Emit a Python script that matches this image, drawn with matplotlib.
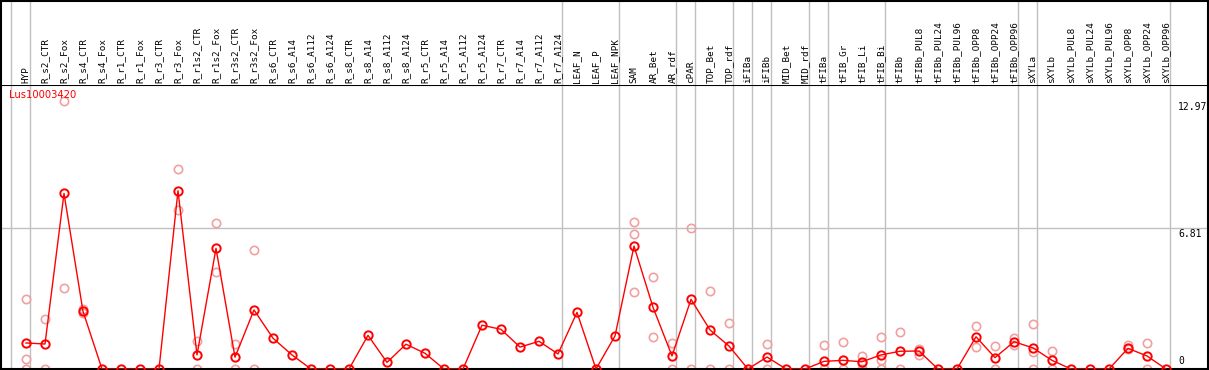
import numpy as np
import matplotlib
matplotlib.use("Agg")
import matplotlib.pyplot as plt

gene = "Lus10003420"

samples = ["HYP", "R_s2_CTR", "R_s2_Fox", "R_s4_CTR", "R_s4_Fox", "R_r1_CTR", "R_r1_Fox",
           "R_r3_CTR", "R_r3_Fox", "R_r1s2_CTR", "R_r1s2_Fox", "R_r3s2_CTR", "R_r3s2_Fox",
           "R_s6_CTR", "R_s6_A14", "R_s6_A112", "R_s6_A124", "R_s8_CTR", "R_s8_A14",
           "R_s8_A112", "R_s8_A124", "R_r5_CTR", "R_r5_A14", "R_r5_A112", "R_r5_A124",
           "R_r7_CTR", "R_r7_A14", "R_r7_A112", "R_r7_A124", "LEAF_N", "LEAF_P", "LEAF_NPK",
           "SAM", "AR_Bet", "AR_rdf", "cPAR", "TOP_Bet", "TOP_rdf", "iFIBa", "iFIBb",
           "MID_Bet", "MID_rdf", "tFIBa", "tFIB_Gr", "tFIB_Li", "tFIB_Bi", "tFIBb",
           "tFIBb_PUL8", "tFIBb_PUL24", "tFIBb_PUL96", "tFIBb_OPP8", "tFIBb_OPP24",
           "tFIBb_OPP96", "sXYLa", "sXYLb", "sXYLb_PUL8", "sXYLb_PUL24", "sXYLb_PUL96",
           "sXYLb_OPP8", "sXYLb_OPP24", "sXYLb_OPP96"]

mean_expr = [1.26, 1.21, 8.50, 2.79, 0, 0, 0,
             0, 8.63, 0.68, 5.84, 0.57, 2.86,
             1.49, 0.68, 0, 0, 0, 1.63,
             0.32, 1.20, 0.76, 0, 0, 2.12,
             1.92, 1.06, 1.34, 0.73, 2.74, 0, 1.60,
             5.95, 2.99, 0.63, 3.37, 1.89, 1.11, 0, 0.58,
             0, 0, 0.37, 0.42, 0.35, 0.68, 0.86,
             0.87, 0, 0, 1.56, 0.55,
             1.32, 1.02, 0.42, 0, 0, 0,
             1.00, 0.63, 0]

# single replicates (light circles)
replicates = {
    "HYP": [3.39, 0.48, 0], "R_s2_CTR": [2.41, 0], "R_s2_Fox": [3.91, 12.97],
    "R_s4_CTR": [2.89, 2.70], "R_r3_Fox": [9.68, 7.70], "R_r1s2_CTR": [1.36, 0],
    "R_r1s2_Fox": [7.05, 4.68], "R_r3s2_CTR": [1.21, 0], "R_r3s2_Fox": [5.75, 0],
    "SAM": [7.10, 6.52, 3.71], "AR_Bet": [4.44, 1.55], "AR_rdf": [1.27, 0],
    "cPAR": [6.81, 0], "TOP_Bet": [3.78, 0], "TOP_rdf": [2.21, 0], "iFIBb": [1.21, 0],
    "tFIBa": [1.18, 0], "tFIB_Gr": [1.29, 0], "tFIB_Li": [0.64, 0.28, 0],
    "tFIB_Bi": [1.56, 0.44, 0], "tFIBb": [1.78, 0], "tFIBb_PUL8": [0.97, 0.68],
    "tFIBb_OPP8": [2.08, 1.08], "tFIBb_OPP24": [1.11, 0], "tFIBb_OPP96": [1.52, 1.16],
    "sXYLa": [2.18, 0.84, 0], "sXYLb": [0.87, 0], "sXYLb_OPP8": [1.15, 0.95],
    "sXYLb_OPP24": [1.24, 0],
}

# group boundaries: a line is drawn after these sample indices
group_ends = [-1, 0, 28, 31, 34, 35, 37, 38, 39, 41, 42, 45, 52, 53, 60]
ytick_vals = [0, 6.81, 12.97]

W, H = 1209, 370
fig = plt.figure(figsize=(W / 100, H / 100), dpi=100)
fig.patch.set_facecolor("white")

x = np.arange(len(samples))
xlim = ((1 - 26) / 19, (1208 - 26) / 19)
ymax = (369 - 85) / 20.66

ax = fig.add_axes([1 / W, 1 / H, 1207 / W, 284 / H])
hd = fig.add_axes([1 / W, 285 / H, 1207 / W, 84 / H])

for a in (ax, hd):
    a.set_xlim(*xlim)
    a.set_xticks([])
    a.set_yticks([])
    for g in group_ends:
        a.axvline(g + 0.21, color="#c0c0c0", lw=1, zorder=0)
    for s in a.spines.values():
        s.set_color("black")
        s.set_linewidth(1.5)
hd.spines["bottom"].set_visible(False)
hd.set_ylim(0, 1)

for i, name in enumerate(samples):
    hd.text(i, 0.02, name, rotation=90, ha="center", va="bottom",
            family="DejaVu Sans Mono", fontsize=6.7, color="black")

ax.set_ylim(0, ymax)
ax.axhline(6.81, color="#c0c0c0", lw=1, zorder=0)

rx, ry = [], []
for i, name in enumerate(samples):
    for v in replicates.get(name, []):
        rx.append(i)
        ry.append(v)
ax.plot(rx, ry, "o", ms=6, mfc="none", mec="#f0a0a0", mew=1.2, ls="none",
        zorder=2, clip_on=False)
ax.plot(x, mean_expr, "-", color="red", lw=1, zorder=3)
ax.plot(x, mean_expr, "o", ms=6, mfc="none", mec="red", mew=1.4, ls="none",
        zorder=4, clip_on=False)

# value labels on the right, inside the plot
xd = (1178 - 26) / 19
for v in ytick_vals:
    if v == 0:
        ax.text(xd, v + 0.15, "0", fontsize=7, family="DejaVu Sans Mono",
                ha="left", va="bottom")
    else:
        ax.text(xd, v - 0.05, f"{v:.2f}", fontsize=7, family="DejaVu Sans Mono",
                ha="left", va="top")

ax.text((9 - 26) / 19, ymax - 0.25, gene, color="red", fontsize=7.2,
        family="DejaVu Sans", ha="left", va="top")

fig.savefig("out.png", dpi=100)
